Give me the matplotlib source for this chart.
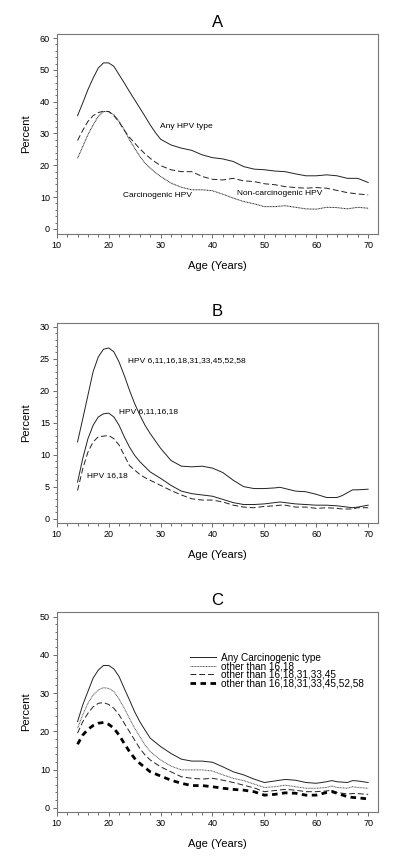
import matplotlib
matplotlib.use("Agg")
import matplotlib.pyplot as plt
from matplotlib.ticker import MultipleLocator

plt.rcParams['font.family'] = ['Liberation Sans', 'DejaVu Sans']

# ---- Panel A ----
age_a = [14, 15, 16, 17, 18, 19, 20, 21, 22, 23, 24, 25, 26, 27, 28, 29, 30,
         32, 34, 36, 38, 40, 42, 44, 46, 48, 50, 52, 54, 56, 58, 60, 62, 64, 66, 68, 70]
any_hpv = [35.6, 39.6, 43.8, 47.4, 50.6, 52.2, 52.2, 51.1, 48.5, 45.9, 43.2, 40.6, 38.0,
           35.4, 32.7, 30.3, 28.2, 26.4, 25.4, 24.7, 23.3, 22.4, 22.0, 21.2, 19.6, 18.8,
           18.6, 18.2, 18.0, 17.3, 16.7, 16.7, 17.0, 16.7, 15.9, 15.9, 14.6]
non_carc = [27.8, 31.0, 33.8, 35.6, 36.6, 37.0, 36.9, 35.6, 33.6, 31.0, 28.8, 27.0, 25.2,
            23.6, 22.2, 21.0, 19.9, 18.6, 18.0, 18.0, 16.5, 15.6, 15.4, 15.9, 15.1, 14.9,
            14.2, 13.9, 13.3, 13.0, 12.8, 13.0, 12.8, 12.1, 11.4, 11.0, 10.7]
carc = [22.2, 25.9, 29.6, 32.7, 35.4, 36.9, 36.9, 35.9, 33.8, 31.2, 28.0, 25.4, 22.8,
        20.7, 19.1, 17.7, 16.5, 14.4, 13.1, 12.3, 12.3, 12.0, 10.9, 9.7, 8.6, 7.9,
        7.0, 7.0, 7.3, 6.8, 6.3, 6.2, 6.8, 6.7, 6.3, 6.8, 6.5]

# ---- Panel B ----
age_b = [14, 15, 16, 17, 18, 19, 20, 21, 22, 23, 24, 25, 26, 27, 28, 30, 32, 34, 36, 38,
         40, 42, 44, 46, 48, 50, 52, 53, 54, 56, 58, 60, 62, 64, 65, 67, 68, 70]
hpv_9 = [12.0, 15.6, 19.3, 23.0, 25.3, 26.5, 26.7, 26.1, 24.5, 22.4, 20.1, 18.0, 16.2,
         14.6, 13.3, 11.0, 9.1, 8.2, 8.1, 8.2, 7.9, 7.2, 6.0, 5.0, 4.7, 4.7, 4.8, 4.9,
         4.7, 4.3, 4.2, 3.8, 3.3, 3.3, 3.6, 4.5, 4.5, 4.6]
hpv_4 = [5.7, 9.4, 12.5, 14.6, 15.9, 16.4, 16.5, 15.9, 14.6, 12.8, 11.2, 9.9, 8.9, 8.1,
         7.3, 6.3, 5.2, 4.3, 3.9, 3.7, 3.5, 3.0, 2.5, 2.2, 2.2, 2.3, 2.5, 2.6, 2.5, 2.3,
         2.2, 2.1, 2.1, 2.0, 1.9, 1.7, 1.8, 2.1]
hpv_2 = [4.4, 7.8, 10.4, 12.0, 12.8, 12.9, 13.0, 12.5, 11.5, 9.9, 8.3, 7.6, 6.9, 6.4,
         6.0, 5.2, 4.4, 3.7, 3.1, 2.9, 2.9, 2.6, 2.1, 1.8, 1.7, 1.9, 2.0, 2.1, 2.1, 1.8,
         1.8, 1.6, 1.7, 1.6, 1.5, 1.5, 1.7, 1.7]

# ---- Panel C ----
age_c = [14, 15, 16, 17, 18, 19, 20, 21, 22, 23, 24, 25, 26, 27, 28, 30, 32, 34, 36, 38,
         40, 42, 44, 46, 48, 50, 52, 54, 56, 58, 60, 62, 63, 64, 66, 67, 68, 70]
c_any = [22.5, 26.9, 30.4, 33.9, 36.0, 37.2, 37.2, 36.3, 34.3, 31.2, 28.2, 25.1, 22.5,
         20.3, 18.2, 16.0, 14.2, 12.7, 12.2, 12.2, 11.9, 10.7, 9.4, 8.6, 7.5, 6.6, 7.0,
         7.4, 7.2, 6.6, 6.4, 6.8, 7.1, 6.8, 6.6, 7.1, 7.0, 6.6]
c_no1618 = [20.8, 24.3, 27.3, 29.5, 30.8, 31.4, 31.2, 30.4, 28.4, 26.0, 23.4, 20.8, 18.6,
            16.4, 14.7, 12.5, 10.9, 9.9, 9.9, 9.9, 9.6, 8.6, 7.7, 7.1, 6.2, 5.3, 5.5,
            5.9, 5.5, 5.1, 5.1, 5.3, 5.7, 5.3, 5.1, 5.5, 5.3, 5.1]
c_no45 = [19.5, 22.5, 24.7, 26.4, 27.3, 27.5, 27.0, 26.0, 24.3, 22.1, 19.9, 17.7, 15.5,
          13.8, 12.5, 10.7, 9.4, 8.1, 7.7, 7.5, 7.7, 7.2, 6.6, 5.9, 5.2, 4.2, 4.5, 4.8,
          4.6, 4.2, 4.2, 4.4, 4.6, 4.0, 3.6, 3.7, 3.7, 3.5]
c_no58 = [16.6, 19.0, 20.5, 21.5, 22.1, 22.3, 21.8, 20.8, 19.0, 16.8, 14.7, 12.9, 11.6,
          10.5, 9.4, 8.3, 7.2, 6.4, 5.8, 5.8, 5.5, 5.1, 4.8, 4.6, 4.2, 3.3, 3.5, 3.9,
          3.8, 3.3, 3.3, 4.0, 4.2, 3.8, 2.9, 2.7, 2.6, 2.3]

fig = plt.figure(figsize=(4, 8.66), dpi=100)
axA = fig.add_axes([0.142, 0.7298, 0.803, 0.231])
axB = fig.add_axes([0.142, 0.396, 0.803, 0.231])
axC = fig.add_axes([0.142, 0.0624, 0.803, 0.231])

ink = '#222222'
tick_fs = 6.5
ann_fs = 6.0


def style(ax, title, ylim, ymajor, yminor):
    ax.set_xlim(10, 71.9)
    ax.set_ylim(*ylim)
    ax.xaxis.set_major_locator(MultipleLocator(10))
    ax.xaxis.set_minor_locator(MultipleLocator(2))
    ax.yaxis.set_major_locator(MultipleLocator(ymajor))
    ax.yaxis.set_minor_locator(MultipleLocator(yminor))
    ax.tick_params(which='both', direction='out', labelsize=tick_fs, color='#555555',
                   width=0.6, pad=2)
    ax.tick_params(which='major', length=3)
    ax.tick_params(which='minor', length=1.8)
    for s in ax.spines.values():
        s.set_color('#777777')
        s.set_linewidth(0.8)
    ax.set_title(title, fontsize=12, pad=5)
    ax.set_xlabel('Age (Years)', fontsize=8, labelpad=8)
    ax.set_ylabel('Percent', fontsize=8, labelpad=6)


# A
axA.plot(age_a, any_hpv, color=ink, lw=0.7, ls='-')
axA.plot(age_a, non_carc, color=ink, lw=0.7, ls=(0, (6, 3)))
axA.plot(age_a, carc, color=ink, lw=0.7, ls=(0, (1, 0.6)))
axA.text(29.8, 32.2, 'Any HPV type', fontsize=ann_fs, va='center', ha='left')
axA.text(22.8, 10.4, 'Carcinogenic HPV', fontsize=ann_fs, va='center', ha='left')
axA.text(44.8, 11.2, 'Non-carcinogenic HPV', fontsize=ann_fs, va='center', ha='left')
style(axA, 'A', (-1.6, 61.3), 10, 2)

# B
axB.plot(age_b, hpv_9, color=ink, lw=0.7, ls='-')
axB.plot(age_b, hpv_4, color=ink, lw=0.7, ls='-')
axB.plot(age_b, hpv_2, color=ink, lw=0.7, ls=(0, (6, 3)))
axB.text(23.8, 24.7, 'HPV 6,11,16,18,31,33,45,52,58', fontsize=ann_fs, va='center', ha='left')
axB.text(21.9, 16.7, 'HPV 6,11,16,18', fontsize=ann_fs, va='center', ha='left')
axB.text(15.9, 6.8, 'HPV 16,18', fontsize=ann_fs, va='center', ha='left')
style(axB, 'B', (-0.7, 30.6), 5, 1)

# C
axC.plot(age_c, c_any, color=ink, lw=0.7, ls='-', label='Any Carcinogenic type')
axC.plot(age_c, c_no1618, color='#555555', lw=0.7, ls=(0, (1, 0.6)), label='other than 16,18')
axC.plot(age_c, c_no45, color=ink, lw=0.7, ls=(0, (6, 3)), label='other than 16,18,31,33,45')
axC.plot(age_c, c_no58, color='black', lw=2.0, ls=(0, (2, 1.6)),
         label='other than 16,18,31,33,45,52,58')
axC.legend(loc='upper left', bbox_to_anchor=(0.40, 0.82), frameon=False, fontsize=7.2,
           handlelength=2.6, handletextpad=0.5, labelspacing=-0.15, borderpad=0)
style(axC, 'C', (-1.1, 51.2), 10, 2)

fig.savefig('out.png', dpi=100)
